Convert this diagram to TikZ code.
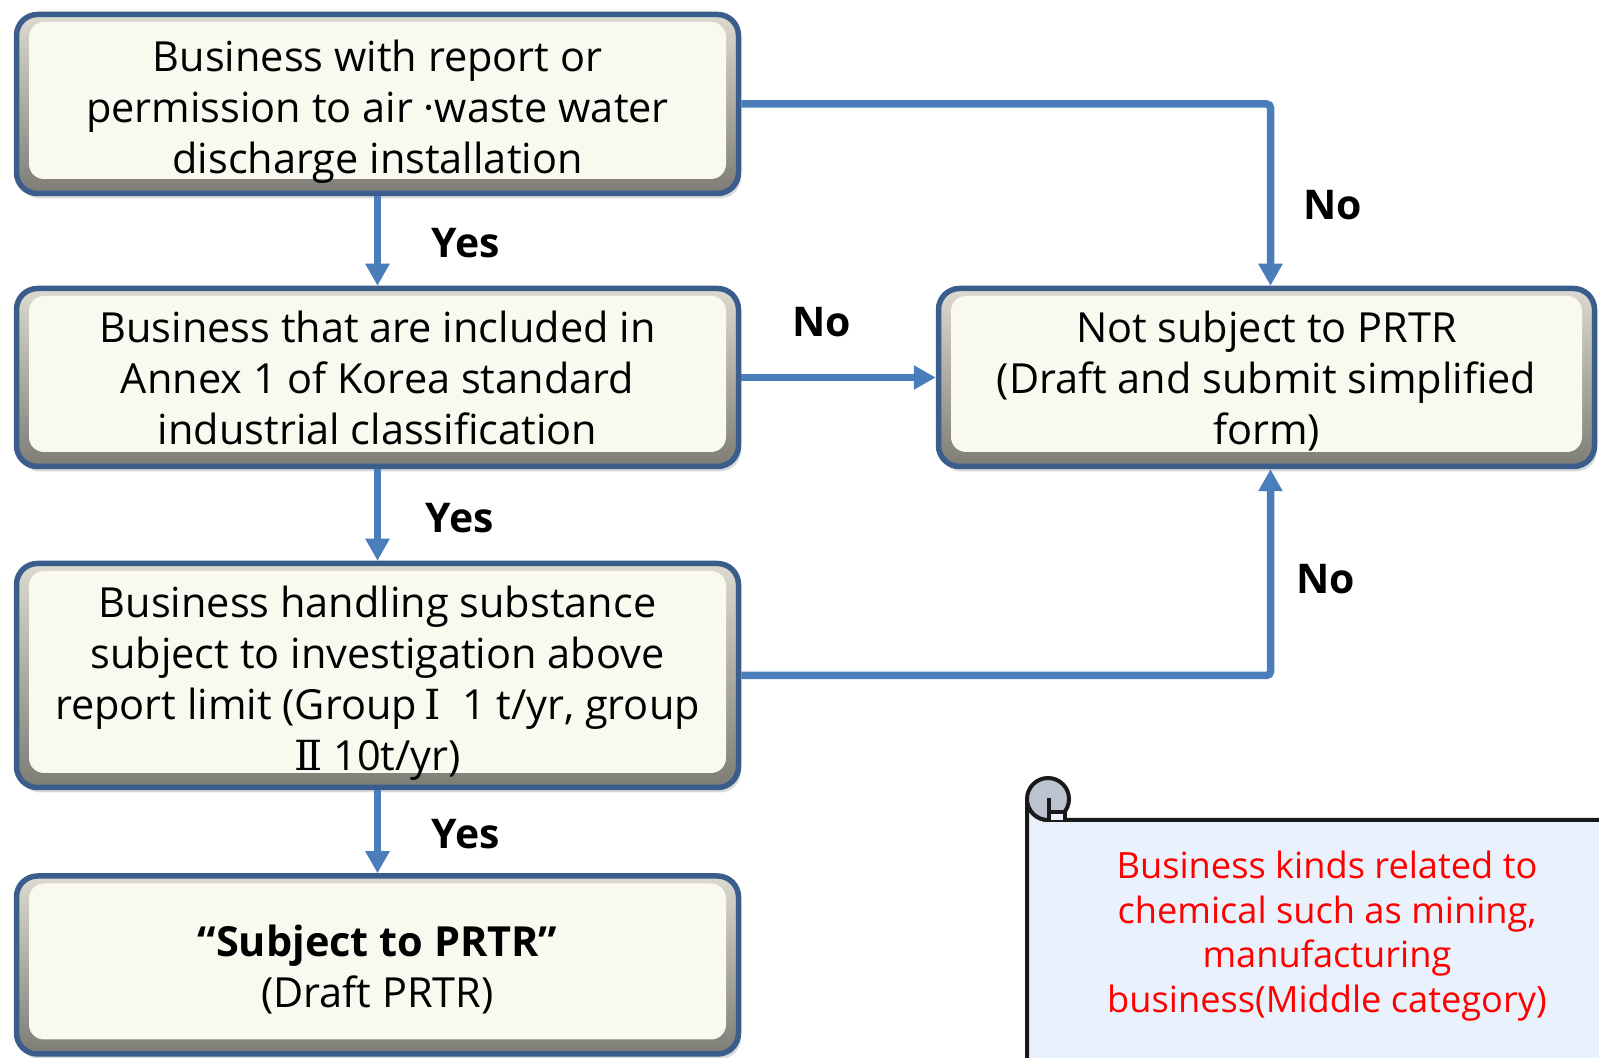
\documentclass[tikz,border=0pt]{standalone}
\usepackage{fontspec}
\setmainfont{Open Sans}
\newfontfamily\numeralfont{DejaVu Serif}
\usetikzlibrary{arrows.meta,shadows}

\definecolor{boxblue}{HTML}{3A5D8C}
\definecolor{boxcream}{HTML}{FAF9EF}
\definecolor{bevellight}{HTML}{DCDAD0}
\definecolor{beveldark}{HTML}{7E7D75}
\definecolor{arrowblue}{HTML}{4A7EBB}
\definecolor{scrollblue}{HTML}{E9F2FC}
\definecolor{curlgray}{HTML}{BCC3CE}
\definecolor{notered}{HTML}{FF0000}

\newcommand{\ColX}{7.55}
\newcommand{\RightX}{25.33}
\newcommand{\BoxW}{14.44cm}
\newcommand{\RightW}{13.12cm}
\newcommand{\LineDrop}[1]{\rule{0pt}{#1}}

\begin{document}
\begin{tikzpicture}[
  flowbox/.style={draw=boxblue, line width=0.11cm, rounded corners=0.42cm,
    top color=bevellight, bottom color=beveldark,
    drop shadow={shadow xshift=0.05cm, shadow yshift=-0.1cm, opacity=0.3},
    align=center, inner sep=0pt,
    font=\fontsize{23.6}{29}\selectfont,
    path picture={
      \fill[boxcream, rounded corners=0.3cm]
        ([xshift=0.25cm, yshift=-0.15cm]path picture bounding box.north west) rectangle
        ([xshift=-0.25cm, yshift=0.29cm]path picture bounding box.south east);
    }},
  flow/.style={arrowblue, line width=0.15cm, rounded corners=0.08cm,
    -{Triangle[width=0.46cm, length=0.44cm]}},
  answer/.style={font=\fontsize{23.3}{29}\selectfont\bfseries},
  scrollline/.style={line width=0.08cm, black!90}
  ]

	\useasboundingbox (0,0) rectangle (31.98,21.16);
	\clip (0,0) rectangle (31.98,21.16);

	%draw the decision boxes
	\node[flowbox, minimum width=\BoxW, minimum height=3.58cm] (air) at (\ColX,19.08)
		{\LineDrop{0.93cm}Business with report or\\permission to air ·waste water\\discharge installation};
	\node[flowbox, minimum width=\BoxW, minimum height=3.56cm] (annex) at (\ColX,13.61)
		{Business that are included in\\Annex 1 of Korea standard\\industrial classification};
	\node[flowbox, minimum width=\BoxW, minimum height=4.48cm] (limit) at (\ColX,7.65)
		{\LineDrop{0.95cm}Business handling substance\\subject to investigation above\\report limit (Group\,{\numeralfont Ⅰ}\ \ 1 t/yr, group\\{\numeralfont Ⅱ} 10t/yr)};
	\node[flowbox, minimum width=\BoxW, minimum height=3.56cm] (subject) at (\ColX,1.86)
		{\LineDrop{0.81cm}{\bfseries “Subject to PRTR”}\\(Draft PRTR)};
	\node[flowbox, minimum width=\RightW, minimum height=3.56cm] (notsub) at (\RightX,13.61)
		{\LineDrop{0.77cm}Not subject to PRTR\\(Draft and submit simplified\\form)};

	%draw the connectors
	\draw[flow] (air.south) -- (annex.north);
	\draw[flow] (annex.south) -- (limit.north);
	\draw[flow] (limit.south) -- (subject.north);
	\draw[flow] (air.east) -| ([xshift=0.08cm]notsub.north);
	\draw[flow] (annex.east) -- (notsub.west);
	\draw[flow] (limit.east) -| ([xshift=0.08cm]notsub.south);

	\node[answer] (yesA) at (9.32,16.30) {Yes};
	\node[answer] (yesB) at (9.20,10.80) {Yes};
	\node[answer] (yesC) at (9.32,4.48) {Yes};
	\node[answer] (noA) at (26.66,17.06) {No};
	\node[answer] (noB) at (16.44,14.72) {No};
	\node[answer] (noC) at (26.52,9.58) {No};

	%draw the scroll
	\begin{scope}[drop shadow={shadow xshift=0.06cm, shadow yshift=-0.08cm, opacity=0.3}]
	\draw[scrollline, fill=scrollblue] (20.54,-0.3) -- (20.54,5.18)
		arc[start angle=180, end angle=270, radius=0.42] -- (32.4,4.76) -- (32.4,-0.3) -- cycle;
	\end{scope}
	\draw[scrollline, fill=curlgray] (20.96,5.18) circle[radius=0.42];
	\fill[scrollblue] (20.98,4.76) rectangle (21.30,4.92);
	\draw[scrollline] (20.98,5.20) -- (20.98,4.76);
	\draw[scrollline] (20.98,4.92) -- (21.30,4.92) -- (21.30,4.76);

	\node[notered, align=center, font=\fontsize{20.6}{25.3}\selectfont] (kinds) at (26.54,2.44)
		{Business kinds related to\\chemical such as mining,\\manufacturing\\business(Middle category)};

\end{tikzpicture}
\end{document}
